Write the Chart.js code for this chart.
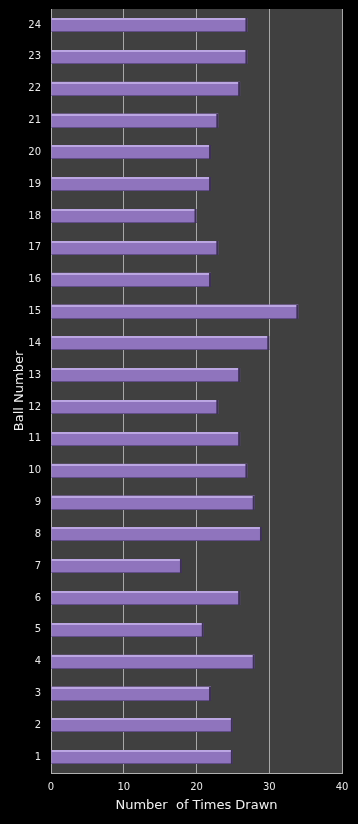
<!DOCTYPE html>
<html>
<head>
<meta charset="utf-8">
<script src="https://cdn.jsdelivr.net/npm/chart.js@4/dist/chart.umd.min.js"></script>
<style>
  html, body { margin: 0; padding: 0; background: #000; }
  canvas { display: block; }
</style>
</head>
<body>
<canvas id="chart" width="358" height="824"></canvas>
<script>
// Ball numbers (bottom to top) and how often each was drawn
const ballNumbers = ['1', '2', '3', '4', '5', '6', '7', '8', '9', '10', '11', '12',
                     '13', '14', '15', '16', '17', '18', '19', '20', '21', '22', '23', '24'];
const timesDrawn = [25, 25, 22, 28, 21, 26, 18, 29, 28, 27, 26, 23,
                    26, 30, 34, 22, 23, 20, 22, 22, 23, 26, 27, 27];
const xTicks = [0, 10, 20, 30, 40];

// dark grey plot background
const plotBackground = {
    id: 'plotBackground',
    beforeDraw(chart) {
        const { ctx, chartArea: a } = chart;
        ctx.save();
        ctx.fillStyle = '#404040';
        ctx.fillRect(a.left, a.top, a.right - a.left, a.bottom - a.top);
        ctx.restore();
    }
};

// bevelled edges on each bar, like the original
const barBevel = {
    id: 'barBevel',
    afterDatasetsDraw(chart) {
        const { ctx } = chart;
        const meta = chart.getDatasetMeta(0);
        ctx.save();
        meta.data.forEach(bar => {
            const top = Math.round(bar.y - bar.height / 2);
            const h = Math.round(bar.height);
            const left = bar.base;
            const right = bar.x;
            ctx.fillStyle = '#bba6e2';
            ctx.fillRect(left, top, right - left - 1, 2);
            ctx.fillStyle = '#624e88';
            ctx.fillRect(left, top + h - 1, right - left, 1);
            ctx.fillStyle = '#3e3058';
            ctx.fillRect(right - 2, top, 2, h);
        });
        ctx.restore();
    }
};

const tickFont = { family: 'DejaVu Sans', size: 10 };
const titleFont = { family: 'DejaVu Sans', size: 13 };

new Chart(document.getElementById('chart'), {
    type: 'bar',
    data: {
        labels: ballNumbers,
        datasets: [{
            data: timesDrawn,
            backgroundColor: '#8f74bd',
            borderWidth: 0,
            barPercentage: 0.43,
            categoryPercentage: 1
        }]
    },
    options: {
        indexAxis: 'y',
        responsive: false,
        animation: false,
        layout: { padding: { top: 9, right: 16, left: 0, bottom: 0 } },
        plugins: {
            legend: { display: false },
            tooltip: { enabled: false }
        },
        scales: {
            x: {
                min: 0,
                max: 40,
                afterBuildTicks(scale) {
                    scale.ticks = xTicks.map(v => ({ value: v }));
                },
                afterFit(scale) { scale.height = 51; },
                grid: {
                    color: '#a8a8a8',
                    lineWidth: 1,
                    drawTicks: false
                },
                border: { color: '#b0b0b0', width: 1 },
                ticks: { color: '#e8e8e8', font: tickFont, padding: 8 },
                title: {
                    display: true,
                    text: 'Number  of Times Drawn',
                    color: '#f0f0f0',
                    font: titleFont,
                    padding: { top: 0, bottom: 11 }
                }
            },
            y: {
                reverse: true,
                afterFit(scale) {
                    scale.width = 51;
                    scale.paddingTop = 0;
                    scale.paddingBottom = 0;
                },
                grid: { display: false, drawTicks: false },
                border: { color: '#b0b0b0', width: 1 },
                ticks: { color: '#e8e8e8', font: tickFont, padding: 10 },
                title: {
                    display: true,
                    text: 'Ball Number',
                    color: '#f0f0f0',
                    font: titleFont,
                    padding: { top: 12, bottom: 0 }
                }
            }
        }
    },
    plugins: [plotBackground, barBevel]
});
</script>
</body>
</html>
